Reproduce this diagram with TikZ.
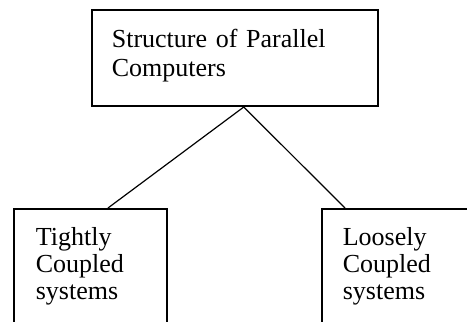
\documentclass[tikz,border=0pt]{standalone}
\usepackage{fontspec}
\setmainfont{Liberation Serif}
\usetikzlibrary{positioning,calc}
\tikzset{
  box/.style  ={draw, line width=1.7pt, align=left, anchor=north west, inner ysep=19pt, font=\fontsize{26}{27}\selectfont},
  link/.style ={line width=1.2pt},
}

\begin{document}
\begin{tikzpicture}[x=1pt, y=-1pt]
  \useasboundingbox (0,0) rectangle (467,322);
  % --- root box ---
  \node[box, text width=246pt, inner xsep=20pt, text depth=40pt,
        font=\fontsize{26}{29}\selectfont] (par) at (91,9) {Structure of Parallel\\Computers};
  % --- the two kinds, boxes run off the page ---
  \node[box, text width=109pt, inner xsep=22pt, text depth=90pt] (tight) at (13,208) {Tightly\\Coupled\\systems};
  \node[box, text width=120pt, inner xsep=21pt, text depth=90pt] (loose) at (321,208) {Loosely\\Coupled\\systems};
  % --- links ---
  \coordinate (top) at ($(par.south west)!0.531!(par.south east)$);
  \draw[link] (top) -- ($(tight.north west)!0.614!(tight.north east)$);
  \draw[link] (top) -- ([xshift=24pt]loose.north west);
\end{tikzpicture}
\end{document}
